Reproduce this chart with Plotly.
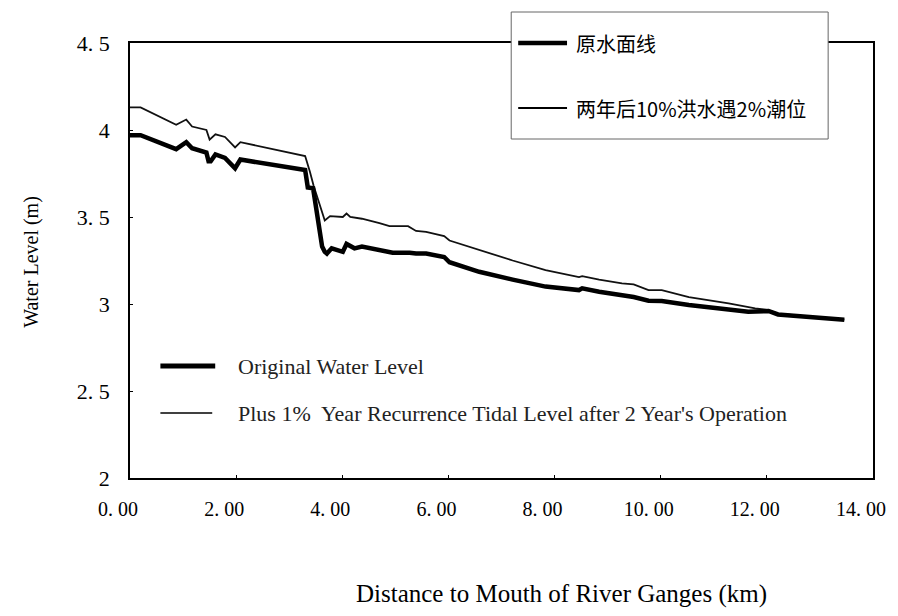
import plotly.graph_objects as go

# Distance to river mouth (km) and water level (m), original surface
dist_original = [0.00, 0.20, 0.87, 1.06, 1.17, 1.44, 1.48, 1.52, 1.61, 1.79, 1.98, 2.08,
                 3.30, 3.35, 3.45, 3.62, 3.67, 3.71, 3.80, 4.01, 4.08, 4.23, 4.37, 4.70,
                 4.95, 5.27, 5.39, 5.58, 5.92, 6.02, 6.58, 7.21, 7.83, 8.46, 8.52, 8.84,
                 9.27, 9.49, 9.77, 10.02, 10.53, 11.28, 11.65, 12.03, 12.21, 13.46]
level_original = [3.97, 3.97, 3.89, 3.93, 3.895, 3.87, 3.82, 3.82, 3.86, 3.84, 3.78, 3.83,
                  3.77, 3.67, 3.665, 3.33, 3.30, 3.29, 3.32, 3.30, 3.345, 3.32, 3.33, 3.31,
                  3.295, 3.295, 3.29, 3.29, 3.27, 3.24, 3.185, 3.14, 3.10, 3.08, 3.09, 3.07,
                  3.048, 3.04, 3.019, 3.017, 2.994, 2.966, 2.955, 2.96, 2.94, 2.91]

# Level after two years: 10% flood meeting 2% tide
dist_after = [0.00, 0.20, 0.87, 1.06, 1.17, 1.44, 1.50, 1.61, 1.79, 1.98, 2.08, 3.30,
              3.39, 3.46, 3.67, 3.77, 4.01, 4.08, 4.15, 4.37, 4.70, 4.89, 5.24, 5.39,
              5.58, 5.92, 6.02, 6.58, 7.21, 7.83, 8.46, 8.52, 8.84, 9.27, 9.49, 9.77,
              10.02, 10.53, 11.28, 11.78, 12.03, 12.21, 13.46]
level_after = [4.13, 4.13, 4.03, 4.06, 4.02, 4.00, 3.945, 3.975, 3.96, 3.90, 3.93, 3.85,
               3.76, 3.68, 3.48, 3.505, 3.50, 3.52, 3.50, 3.49, 3.465, 3.447, 3.447, 3.42,
               3.415, 3.39, 3.365, 3.31, 3.25, 3.195, 3.155, 3.16, 3.14, 3.119, 3.113, 3.08,
               3.08, 3.04, 3.004, 2.975, 2.965, 2.945, 2.91]

x_ticks = [0, 2, 4, 6, 8, 10, 12, 14]
x_ticktext = ["0. 00", "2. 00", "4. 00", "6. 00", "8. 00", "10. 00", "12. 00", "14. 00"]
y_ticks = [2, 2.5, 3, 3.5, 4, 4.5]
y_ticktext = ["2", "2. 5", "3", "3. 5", "4", "4. 5"]

legend_cn = ["原水面线", "两年后10%洪水遇2%潮位"]
legend_en = ["Original Water Level",
             "Plus 1%  Year Recurrence Tidal Level after 2 Year's Operation"]

W, H = 898, 616
L, R, T, B = 129.5, 875, 43, 478


def px(x):
    return (x - L) / (R - L)


def py(y):
    return (B - y) / (B - T)


SERIF = "Liberation Serif"
CJK = "Noto Sans CJK SC"

fig = go.Figure()
fig.add_trace(go.Scatter(x=dist_after, y=level_after, mode="lines",
                         line=dict(color="#111111", width=1.8),
                         name=legend_cn[1], showlegend=False))
fig.add_trace(go.Scatter(x=dist_original, y=level_original, mode="lines",
                         line=dict(color="#000000", width=4.5),
                         name=legend_cn[0], showlegend=False))

shapes = [
    # boxed Chinese legend overlapping the top frame
    dict(type="rect", xref="paper", yref="paper",
         x0=px(512), x1=px(830), y0=py(139), y1=py(12),
         fillcolor="white", line=dict(color="#666666", width=1), layer="above"),
    dict(type="line", xref="paper", yref="paper",
         x0=px(519), x1=px(568), y0=py(43), y1=py(43),
         line=dict(color="black", width=4.5), layer="above"),
    dict(type="line", xref="paper", yref="paper",
         x0=px(519), x1=px(568), y0=py(108), y1=py(108),
         line=dict(color="black", width=1.8), layer="above"),
    # English legend keys inside the plot
    dict(type="line", xref="paper", yref="paper",
         x0=px(160), x1=px(215), y0=py(366), y1=py(366),
         line=dict(color="black", width=5), layer="above"),
    dict(type="line", xref="paper", yref="paper",
         x0=px(160), x1=px(212), y0=py(413), y1=py(413),
         line=dict(color="black", width=1.5), layer="above"),
]

annotations = [
    dict(text=legend_cn[0], xref="paper", yref="paper", x=px(575), y=py(43),
         xanchor="left", yanchor="middle", showarrow=False,
         font=dict(family=CJK, size=20, color="black")),
    dict(text=legend_cn[1], xref="paper", yref="paper", x=px(575), y=py(108),
         xanchor="left", yanchor="middle", showarrow=False,
         font=dict(family=CJK, size=20, color="black")),
    dict(text=legend_en[0], xref="paper", yref="paper", x=px(236), y=py(366),
         xanchor="left", yanchor="middle", showarrow=False,
         font=dict(family=SERIF, size=22, color="#222222")),
    dict(text=legend_en[1], xref="paper", yref="paper", x=px(236), y=py(413),
         xanchor="left", yanchor="middle", showarrow=False,
         font=dict(family=SERIF, size=22, color="#222222")),
    dict(text="Water Level (m)", xref="paper", yref="paper", x=px(30), y=py(262),
         xanchor="center", yanchor="middle", textangle=-90, showarrow=False,
         font=dict(family=SERIF, size=20, color="black")),
    dict(text="Distance to Mouth of River Ganges (km)", xref="paper", yref="paper",
         x=px(562), y=py(594), xanchor="center", yanchor="middle", showarrow=False,
         font=dict(family=SERIF, size=25, color="black")),
]

fig.update_layout(
    width=W, height=H,
    margin=dict(l=L, r=W - R, t=T, b=H - B),
    paper_bgcolor="white", plot_bgcolor="white",
    showlegend=False,
    shapes=shapes, annotations=annotations,
    xaxis=dict(range=[0, 14], tickvals=x_ticks, ticktext=x_ticktext,
               showgrid=False, zeroline=False, showline=True, mirror=True,
               linecolor="black", linewidth=1.5, ticks="inside", ticklen=3,
               tickcolor="black", ticklabelstandoff=12, ticklabelshift=-12,
               tickfont=dict(family=SERIF, size=20, color="black")),
    yaxis=dict(range=[2, 4.5], tickvals=y_ticks, ticktext=y_ticktext,
               showgrid=False, zeroline=False, showline=True, mirror=True,
               linecolor="black", linewidth=1.5, ticks="inside", ticklen=3,
               tickcolor="black", ticklabelstandoff=14,
               tickfont=dict(family=SERIF, size=22, color="black")),
)

fig.write_html("out.html")
